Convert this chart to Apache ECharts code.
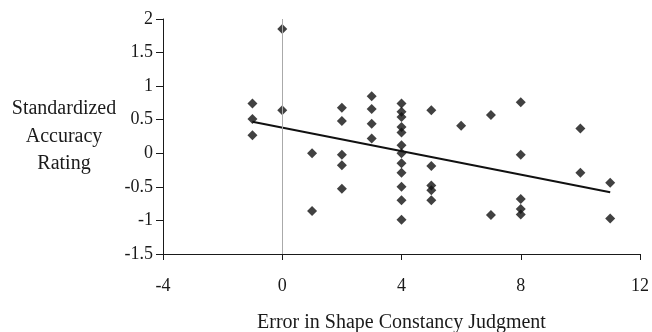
<!DOCTYPE html>
<html>
<head>
<meta charset="utf-8">
<script src="https://cdn.jsdelivr.net/npm/echarts@6/dist/echarts.min.js"></script>
<style>
  html, body { margin: 0; padding: 0; background: #fff; }
  #chart { width: 652px; height: 332px; }
</style>
</head>
<body>
<div id="chart"></div>
<script>
// shape constancy error vs standardized accuracy rating
const errorX = [
  -1, -1, -1,
  0, 0,
  1, 1,
  2, 2, 2, 2, 2,
  3, 3, 3, 3,
  4, 4, 4, 4, 4, 4, 4, 4, 4, 4, 4, 4,
  5, 5, 5, 5, 5,
  6,
  7, 7,
  8, 8, 8, 8, 8,
  10, 10,
  11, 11
]
const ratingY = [
  0.74, 0.51, 0.27,
  1.85, 0.64,
  0.0, -0.86,
  0.68, 0.48, -0.02, -0.18, -0.53,
  0.85, 0.66, 0.44, 0.22,
  0.74, 0.62, 0.54, 0.39, 0.31, 0.12, 0.0, -0.15, -0.29, -0.5, -0.7, -0.99,
  0.64, -0.19, -0.48, -0.55, -0.7,
  0.41,
  0.57, -0.92,
  0.76, -0.02, -0.68, -0.83, -0.91,
  0.37, -0.29,
  -0.44, -0.97
]
// fitted trend line end points
const trendX = [-1, 11]
const trendY = [0.47, -0.58]

const xTicks = [-4, 0, 4, 8, 12]
const yTicks = [-1.5, -1, -0.5, 0, 0.5, 1, 1.5, 2]

const font = '"Liberation Serif", "DejaVu Serif", serif'
const ink = '#1a1a1a'

const chart = echarts.init(document.getElementById('chart'))

const option = {
  backgroundColor: '#fff',
  animation: false,
  grid: {
    left: 163, right: 12, top: 19, bottom: 78,
    containLabel: false, outerBoundsMode: 'none'
  },
  xAxis: {
    type: 'value',
    min: xTicks[0],
    max: xTicks[xTicks.length - 1],
    interval: 4,
    name: 'Error in Shape Constancy Judgment',
    nameLocation: 'middle',
    nameGap: 59,
    nameTextStyle: { fontFamily: font, fontSize: 20, color: ink },
    axisLine: { onZero: false, lineStyle: { color: ink, width: 1 } },
    axisTick: { show: true, inside: false, length: 6, lineStyle: { color: ink } },
    axisLabel: { fontFamily: font, fontSize: 18, color: ink, margin: 23 },
    splitLine: { show: false }
  },
  yAxis: {
    type: 'value',
    min: yTicks[0],
    max: yTicks[yTicks.length - 1],
    interval: 0.5,
    name: 'Standardized\nAccuracy\nRating',
    nameLocation: 'middle',
    nameRotate: 0,
    nameGap: 99,
    nameTextStyle: {
      fontFamily: font, fontSize: 20, color: ink,
      align: 'center', lineHeight: 27.5
    },
    axisLine: { show: true, onZero: false, lineStyle: { color: ink, width: 1 } },
    axisTick: { show: true, inside: false, length: 7, lineStyle: { color: ink } },
    axisLabel: { fontFamily: font, fontSize: 18, color: ink, margin: 10 },
    splitLine: { show: false }
  },
  series: [
    {
      type: 'scatter',
      symbol: 'diamond',
      symbolSize: 10,
      itemStyle: { color: '#111' },
      data: errorX.map((x, i) => [x, ratingY[i]]),
      markLine: {
        silent: true,
        symbol: 'none',
        label: { show: false },
        lineStyle: { color: '#aaa', width: 1, type: 'solid' },
        data: [{ xAxis: 0 }]
      },
      z: 3
    },
    {
      type: 'line',
      data: trendX.map((x, i) => [x, trendY[i]]),
      symbol: 'none',
      lineStyle: { color: '#111', width: 2 },
      z: 4
    }
  ]
}

chart.setOption(option)
</script>
</body>
</html>
